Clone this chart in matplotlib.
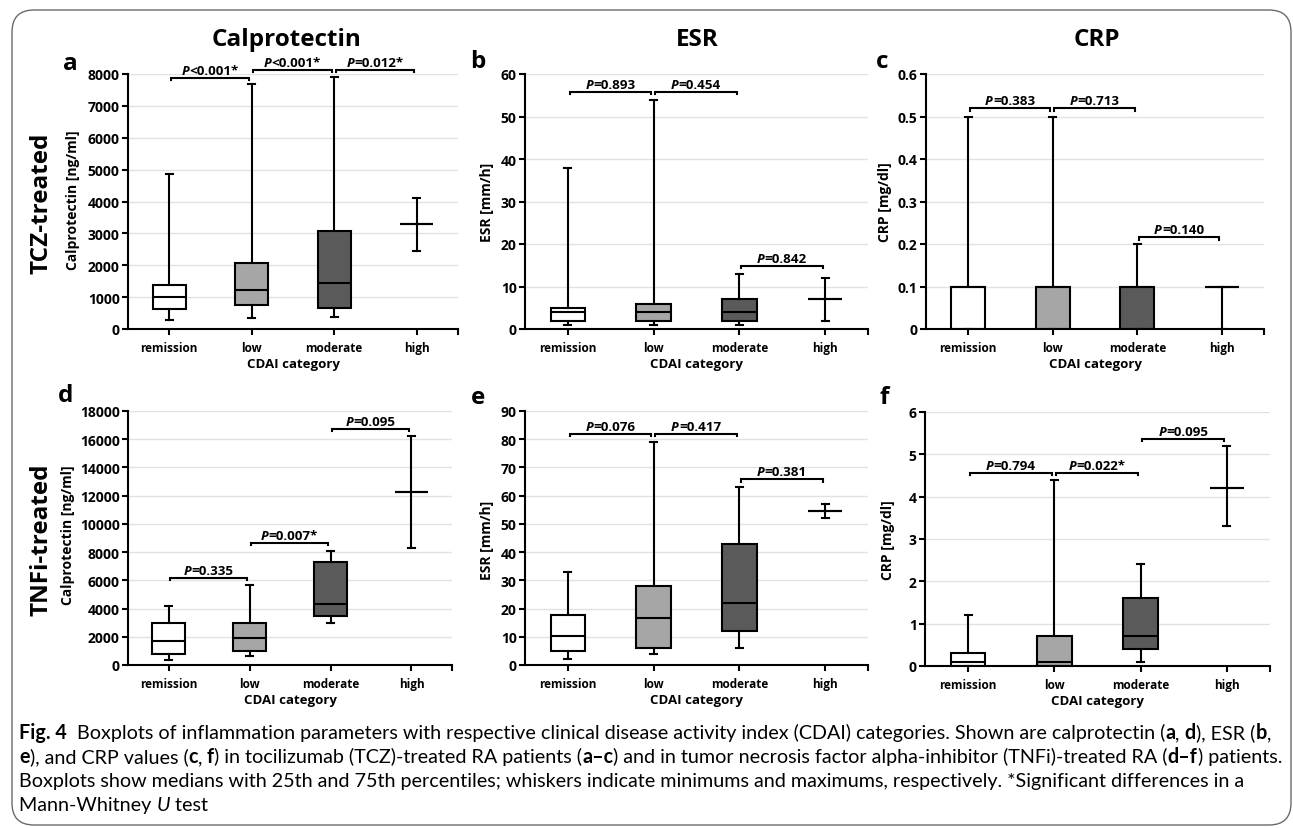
import matplotlib
matplotlib.use('Agg')
import matplotlib.pyplot as plt
from matplotlib import font_manager
from matplotlib.patches import FancyBboxPatch

# ---------------- data ----------------
categories = ['remission', 'low', 'moderate', 'high']
box_colors = ['#ffffff', '#a6a6a6', '#5a5a5a', '#ffffff']

# rows: minimum, 25th pct, median, 75th pct, maximum (per category)
calpro_tcz = [[280, 350, 380, 2460],
              [620, 750, 650, 3280],
              [1000, 1220, 1440, 3280],
              [1370, 2070, 3060, 3280],
              [4850, 7700, 7920, 4100]]
esr_tcz = [[1, 1, 1, 2],
           [2, 2, 2, 7],
           [4, 4, 4, 7],
           [5, 6, 7, 7],
           [38, 54, 13, 12]]
crp_tcz = [[0, 0, 0, 0],
           [0, 0, 0, 0.1],
           [0.1, 0.1, 0.1, 0.1],
           [0.1, 0.1, 0.1, 0.1],
           [0.5, 0.5, 0.2, 0.1]]
calpro_tnfi = [[350, 640, 2950, 8300],
               [750, 970, 3500, 12250],
               [1700, 1900, 4300, 12250],
               [3000, 2950, 7300, 12250],
               [4150, 5700, 8100, 16200]]
esr_tnfi = [[2.0, 3.8, 6.0, 52.2],
            [5.0, 5.9, 12.0, 54.6],
            [10.3, 16.5, 22.1, 54.6],
            [17.7, 28.0, 42.8, 54.6],
            [33.1, 79.0, 63.1, 57.2]]
crp_tnfi = [[0, 0, 0.1, 3.3],
            [0, 0, 0.4, 4.2],
            [0.1, 0.1, 0.7, 4.2],
            [0.3, 0.7, 1.6, 4.2],
            [1.2, 4.4, 2.4, 5.2]]

# P-value brackets: (from category, to category, height, label after "P")
p_calpro_tcz = [(0, 1, 7885, '<0.001*'), (1, 2, 8136, '<0.001*'), (2, 3, 8136, '=0.012*')]
p_esr_tcz = [(0, 1, 55.8, '=0.893'), (1, 2, 55.8, '=0.454'), (2, 3, 14.9, '=0.842')]
p_crp_tcz = [(0, 1, 0.52, '=0.383'), (1, 2, 0.52, '=0.713'), (2, 3, 0.216, '=0.140')]
p_calpro_tnfi = [(0, 1, 6200, '=0.335'), (1, 2, 8670, '=0.007*'), (2, 3, 16750, '=0.095')]
p_esr_tnfi = [(0, 1, 82, '=0.076'), (1, 2, 82, '=0.417'), (2, 3, 65.8, '=0.381')]
p_crp_tnfi = [(0, 1, 4.57, '=0.794'), (1, 2, 4.57, '=0.022*'), (2, 3, 5.37, '=0.095')]

yt_calpro_tcz = [0, 1000, 2000, 3000, 4000, 5000, 6000, 7000, 8000]
yt_esr_tcz = [0, 10, 20, 30, 40, 50, 60]
yt_crp_tcz = [0, 0.1, 0.2, 0.3, 0.4, 0.5, 0.6]
yl_crp_tcz = ['0', '0.1', '0.2', '0.3', '0.4', '0.5', '0.6']
yt_calpro_tnfi = [0, 2000, 4000, 6000, 8000, 10000, 12000, 14000, 16000, 18000]
yt_esr_tnfi = [0, 10, 20, 30, 40, 50, 60, 70, 80, 90]
yt_crp_tnfi = [0, 1, 2, 3, 4, 5, 6]

col_titles = ['Calprotectin', 'ESR', 'CRP']
row_titles = ['TCZ-treated', 'TNFi-treated']
panel_letters = ['a', 'b', 'c', 'd', 'e', 'f']
ylabels = ['Calprotectin [ng/ml]', 'ESR [mm/h]', 'CRP [mg/dl]']
xlabel = 'CDAI category'

# ---------------- figure ----------------
W, H = 1293, 829
plt.rcParams['font.family'] = ['Open Sans', 'DejaVu Sans']
fig = plt.figure(figsize=(W / 100, H / 100), dpi=100)
fig.patch.set_facecolor('white')
R = fig.canvas.get_renderer()


def rect(l, t, r, b):
    return [l / W, 1 - b / H, (r - l) / W, (b - t) / H]


def px2fig(x, y):
    return x / W, 1 - y / H


def text_width(s, **kw):
    t1 = fig.text(0, 0, 'x' + s + 'x', **kw)
    w1 = t1.get_window_extent(R).width
    t1.remove()
    t2 = fig.text(0, 0, 'xx', **kw)
    w2 = t2.get_window_extent(R).width
    t2.remove()
    return w1 - w2


def draw_segments(x, y, segs, size, family, ha='left', va='baseline', stretch='normal'):
    """segs: list of (text, weight, style); x,y in pixel coords from top-left."""
    widths = [text_width(s, fontsize=size, fontweight=w, fontstyle=st, family=family,
                         fontstretch=stretch)
              for s, w, st in segs]
    total = sum(widths)
    cx = x - total / 2 if ha == 'center' else x
    for (s, w, st), wd in zip(segs, widths):
        fx, fy = px2fig(cx, y)
        fig.text(fx, fy, s, fontsize=size, fontweight=w, fontstyle=st,
                 family=family, fontstretch=stretch, ha='left', va=va)
        cx += wd


panels = [
    (rect(128, 75, 458, 330), calpro_tcz, (0, 8000), yt_calpro_tcz, None, p_calpro_tcz, 0, (73, 200)),
    (rect(525, 75, 868, 330), esr_tcz, (0, 60), yt_esr_tcz, None, p_esr_tcz, 1, (487, 202)),
    (rect(926, 75, 1264, 330), crp_tcz, (0, 0.6), yt_crp_tcz, yl_crp_tcz, p_crp_tcz, 2, (885, 202)),
    (rect(128, 412, 452, 666), calpro_tnfi, (0, 18000), yt_calpro_tnfi, None, p_calpro_tnfi, 0, (68, 535)),
    (rect(525, 412, 868, 666), esr_tnfi, (0, 90), yt_esr_tnfi, None, p_esr_tnfi, 1, (487, 540)),
    (rect(925, 413, 1270, 667), crp_tnfi, (0, 6), yt_crp_tnfi, None, p_crp_tnfi, 2, (888, 540)),
]

LW = 1.5
for pos, data, ylim, yticks, ytl, brackets, col, ylab_px in panels:
    ax = fig.add_axes(pos)
    ax.set_xlim(-0.5, 3.5)
    ax.set_ylim(*ylim)
    ax.set_yticks(yticks)
    if ytl is not None:
        ax.set_yticklabels(ytl)
    ax.set_xticks(range(4))
    ax.set_xticks([3.5], minor=True)
    ax.set_xticklabels(categories)
    for s in ['top', 'right']:
        ax.spines[s].set_visible(False)
    for s in ['left', 'bottom']:
        ax.spines[s].set_linewidth(LW)
        ax.spines[s].set_zorder(5)
    ax.tick_params(axis='y', length=4, width=LW, pad=2, labelsize=10)
    ax.tick_params(axis='x', which='both', length=4, width=LW, pad=5, labelsize=8.5)
    for lab in ax.get_xticklabels() + ax.get_yticklabels():
        lab.set_fontweight('bold')
    ax.grid(axis='y', color='#e2e2e2', linewidth=1)
    ax.set_axisbelow(True)

    stats = []
    for i in range(4):
        stats.append(dict(whislo=data[0][i], q1=data[1][i], med=data[2][i],
                          q3=data[3][i], whishi=data[4][i], fliers=[]))
    bp = ax.bxp(stats, positions=range(4), widths=0.4, capwidths=0.08,
                patch_artist=True, manage_ticks=False, showfliers=False,
                boxprops=dict(edgecolor='black', linewidth=LW),
                medianprops=dict(color='black', linewidth=LW),
                whiskerprops=dict(color='black', linewidth=LW),
                capprops=dict(color='black', linewidth=LW))
    for patch, c in zip(bp['boxes'], box_colors):
        patch.set_facecolor(c)

    ax.set_xlabel(xlabel, fontsize=9.5, fontweight='bold')
    ax.xaxis.set_label_coords(0.5, -0.135)
    ax.xaxis.label.set_va('center')

    # y label
    fx, fy = px2fig(*ylab_px)
    fig.text(fx, fy, ylabels[col], rotation=90, ha='center', va='center',
             fontsize=10, fontweight='bold')

    # brackets
    y0, y1 = ylim
    hpx = ax.get_window_extent(R).height
    hook = 2.5 * (y1 - y0) / hpx
    for i, j, yb, lab in brackets:
        xa, xb = i + 0.02, j - 0.03
        ax.plot([xa, xa, xb, xb], [yb - hook, yb, yb, yb - hook], color='black',
                linewidth=LW, clip_on=False, solid_joinstyle='miter')
        dx, dy = ax.transData.transform(((xa + xb) / 2, yb))
        draw_segments(dx, H - dy - 4, [('P', 'bold', 'italic'), (lab, 'bold', 'normal')],
                      9.6, ['Open Sans', 'DejaVu Sans'], ha='center')

# column titles
for t, xc in zip(col_titles, [287, 697, 1097]):
    fx, fy = px2fig(xc, 40)
    fig.text(fx, fy, t, fontsize=17.5, fontweight='bold', ha='center', va='center')

# row titles
for t, yc in zip(row_titles, [203, 540]):
    fx, fy = px2fig(42, yc)
    fig.text(fx, fy, t, fontsize=17.5, fontweight='bold', ha='center', va='center', rotation=90)

# panel letters
for t, (xp, yp) in zip(panel_letters, [(70, 64), (478, 62), (882, 62), (66, 396), (478, 398), (884, 398)]):
    fx, fy = px2fig(xp, yp)
    fig.text(fx, fy, t, fontsize=17.5, fontweight='bold', ha='center', va='center')

# caption font: prefer a condensed sans
entries = font_manager.fontManager.ttflist
if any(f.name == 'Liberation Sans Narrow' for f in entries):
    cap_family, cap_stretch = ['Liberation Sans Narrow', 'DejaVu Sans'], 'normal'
elif any(f.name == 'Noto Sans' and f.stretch == 'condensed' for f in entries):
    cap_family, cap_stretch = ['Noto Sans', 'DejaVu Sans'], 'condensed'
else:
    cap_family, cap_stretch = ['Lato', 'DejaVu Sans'], 'normal'

N, B, I = 'normal', 'bold', 'italic'
cap_lines = [
    [('Fig. 4', B, N), ('  Boxplots of inflammation parameters with respective clinical disease activity index (CDAI) categories. Shown are calprotectin (', N, N),
     ('a', B, N), (', ', N, N), ('d', B, N), ('), ESR (', N, N), ('b', B, N), (',', N, N)],
    [('e', B, N), ('), and CRP values (', N, N), ('c', B, N), (', ', N, N), ('f', B, N),
     (') in tocilizumab (TCZ)-treated RA patients (', N, N), ('a–c', B, N),
     (') and in tumor necrosis factor alpha-inhibitor (TNFi)-treated RA (', N, N), ('d–f', B, N),
     (') patients.', N, N)],
    [('Boxplots show medians with 25th and 75th percentiles; whiskers indicate minimums and maximums, respectively. *Significant differences in a', N, N)],
    [('Mann-Whitney ', N, N), ('U', N, I), (' test', N, N)],
]
# fit caption size so that the second line spans the text block width
ref = 12.0
wref = sum(text_width(s, fontsize=ref, fontweight=w, fontstyle=st, family=cap_family,
                      fontstretch=cap_stretch)
           for s, w, st in cap_lines[1])
cap_size = min(ref * (1262 / wref), 14.6)
for line, yb in zip(cap_lines, [739, 763, 787, 811]):
    draw_segments(19, yb, line, cap_size, cap_family, stretch=cap_stretch)

# outer rounded frame
frame = FancyBboxPatch((12 / 100, (H - 826) / 100), (1291 - 12) / 100, (826 - 11) / 100,
                       boxstyle='round,pad=0,rounding_size=0.22',
                       transform=fig.dpi_scale_trans, facecolor='none',
                       edgecolor='#6b6b6b', linewidth=1.0)
fig.add_artist(frame)

fig.savefig('out.png', dpi=100, facecolor='white')
